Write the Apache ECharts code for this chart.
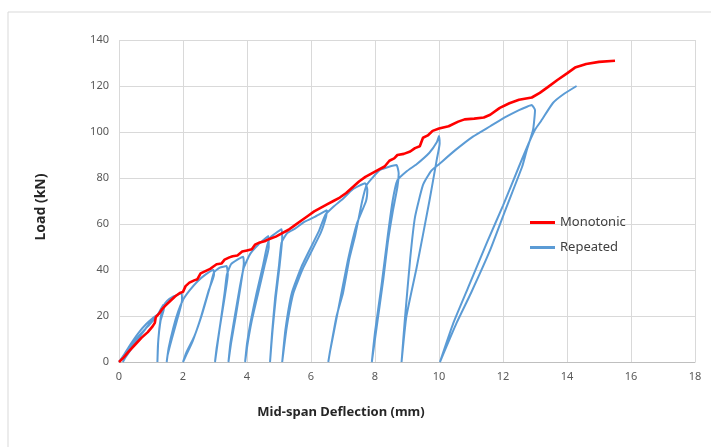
<!DOCTYPE html>
<html>
<head>
<meta charset="UTF-8" />
<title>Load vs Mid-span Deflection</title>
<script src="https://cdn.jsdelivr.net/npm/echarts@6/dist/echarts.min.js"></script>
<style>
  html, body { margin: 0; padding: 0; background: #fff; }
  #main { width: 711px; height: 447px; }
</style>
</head>
<body>
<div id="main"></div>
<script>
// axis ticks
const xTicks = [0, 2, 4, 6, 8, 10, 12, 14, 16, 18]
const yTicks = [0, 20, 40, 60, 80, 100, 120, 140]

// monotonic test: [deflection mm, load kN]
const monotonic = [
  [0,0],[0.15,2],[0.3,4.5],[0.5,7.5],[0.7,10.5],[0.9,13],[1.05,15.5],[1.12,17],[1.15,19.5],
  [1.25,21],[1.35,23],[1.45,24.5],[1.6,26.5],[1.75,28.5],[1.9,30],[2.0,30.5],[2.08,33],
  [2.2,34.5],[2.35,35.5],[2.45,36],[2.55,38.5],[2.7,39.5],[2.85,40.5],[2.95,41.5],[3.05,42.5],
  [3.2,42.8],[3.3,44.5],[3.45,45.5],[3.55,46],[3.7,46.3],[3.85,48],[4.0,48.5],[4.15,49],
  [4.25,51],[4.4,52],[4.55,52.5],[4.7,53.5],[4.9,54.5],[5.1,56],[5.3,57.5],[5.5,59.5],
  [5.7,61.5],[5.9,63.5],[6.1,65.5],[6.3,67],[6.5,68.5],[6.7,70],[6.9,71.5],[7.1,73.5],
  [7.3,76],[7.5,78.5],[7.7,80.5],[7.9,82],[8.1,83.5],[8.3,85],[8.45,87.5],[8.6,88.5],
  [8.7,90],[8.9,90.5],[9.1,91.5],[9.25,93],[9.4,93.8],[9.5,97.5],[9.65,98.5],[9.8,100.5],
  [10.0,101.5],[10.3,102.5],[10.6,104.5],[10.8,105.5],[11.1,105.8],[11.4,106.3],[11.6,107.5],
  [11.9,110.5],[12.2,112.5],[12.5,114],[12.9,115],[13.15,117],[13.4,119.5],[13.7,122.6],
  [14.0,125.5],[14.25,128],[14.6,129.6],[15.0,130.5],[15.5,131]
]

// repeated loading: one continuous path of load/unload cycles
const repeated = [
  [0,0],[0.15,3],[0.35,7.5],[0.6,12.5],[0.85,16.5],[1.05,19],[1.2,20.5],
  [1.0,17.5],[0.7,12],[0.4,6],[0.2,2],[0.12,0],
  [0.3,5],[0.6,11],[0.9,15.5],[1.1,18.5],[1.25,21.5],[1.38,24.8],
  [1.4,23],[1.3,18],[1.22,8],[1.2,0],
  [1.23,10],[1.3,19],[1.38,24],[1.5,26.5],[1.7,28.5],[1.96,29.9],
  [1.97,27],[1.85,20],[1.65,10],[1.52,3],[1.49,0],
  [1.55,6],[1.7,15],[1.85,22],[2.0,27],[2.2,31],[2.45,35],[2.7,38],[2.95,40],
  [2.97,38],[2.8,31],[2.55,19],[2.3,9],[2.1,3],[2.0,0],
  [2.1,4],[2.35,11],[2.6,21],[2.85,33],[2.97,39],[3.15,41],[3.36,41.7],
  [3.4,38],[3.3,28],[3.15,15],[3.05,5],[3.0,0],
  [3.05,6],[3.17,17],[3.3,30],[3.37,38],[3.5,42.5],[3.7,44.5],[3.88,45.8],
  [3.9,43],[3.8,33],[3.65,20],[3.5,8],[3.42,0],
  [3.48,8],[3.62,20],[3.78,33],[3.9,41],[4.1,47],[4.35,51],[4.67,54.8],
  [4.68,50],[4.55,42],[4.35,30],[4.15,18],[4.02,8],[3.94,0],
  [4.0,8],[4.12,18],[4.3,30],[4.5,42],[4.62,50],[4.72,54],[4.85,55.5],[5.08,57.7],
  [5.1,54],[5.02,42],[4.9,28],[4.8,14],[4.72,0],
  [4.78,12],[4.88,28],[5.0,42],[5.08,52],[5.25,56],[5.5,58],[5.8,61],[6.1,63],[6.3,64.5],[6.5,66],
  [6.47,63],[6.3,56],[5.76,41],[5.45,30],[5.24,15],[5.1,0],
  [5.2,14],[5.4,30],[5.72,42],[6.25,57],[6.45,64],[6.7,67.5],[7.0,71],[7.3,75],[7.69,77.7],
  [7.76,75],[7.72,70],[7.43,60],[7.15,44],[6.84,22],[6.6,5],[6.54,0],
  [6.6,5],[6.8,20],[7.0,30],[7.2,45],[7.38,55],[7.6,70],[7.74,77],[8.16,83.5],[8.67,85.6],
  [8.74,82],[8.7,76],[8.55,65],[8.4,52],[8.26,36],[8.05,15],[7.9,0],
  [8.0,13],[8.2,33],[8.4,55],[8.55,70],[8.7,79],[9.0,83],[9.3,86],[9.7,91],[9.93,95.5],[10.0,98.3],
  [10.02,95],[9.93,88],[9.7,70],[9.3,41],[8.98,19.7],[8.83,0],
  [8.93,18],[9.1,45],[9.25,63],[9.5,77],[9.75,83],[10.0,86],[10.5,92],[11.06,98],[11.6,102.5],
  [12.1,106.7],[12.5,109.5],[12.75,111],[12.9,111.7],
  [13.0,109.5],[12.94,101],[12.74,92],[12.6,85],[12.1,67],[11.6,48.7],[11.0,30],[10.55,17],[10.03,0],
  [10.45,17],[10.9,32],[11.5,52],[12.0,68],[12.5,85],[12.8,95],[13.0,101],[13.2,105],
  [13.56,112.6],[13.9,116.5],[14.3,120]
]

const chart = echarts.init(document.getElementById('main'))

const axisText = { color: '#595959', fontSize: 11, fontFamily: 'Noto Sans' }

chart.setOption({
  animation: false,
  grid: { left: 119, right: 16, top: 40, bottom: 85 },
  xAxis: {
    type: 'value',
    min: xTicks[0],
    max: xTicks[xTicks.length - 1],
    interval: 2,
    axisLine: { show: true, lineStyle: { color: '#bfbfbf', width: 1 } },
    axisTick: { show: false },
    axisLabel: { ...axisText, margin: 9 },
    splitLine: { show: true, lineStyle: { color: '#d9d9d9', width: 1 } }
  },
  yAxis: {
    type: 'value',
    min: yTicks[0],
    max: yTicks[yTicks.length - 1],
    interval: 20,
    axisLine: { show: false },
    axisTick: { show: false },
    axisLabel: { ...axisText, margin: 10 },
    splitLine: { show: true, lineStyle: { color: '#d9d9d9', width: 1 } }
  },
  legend: {
    orient: 'vertical',
    left: 530,
    top: 216,
    padding: 0,
    icon: 'rect',
    itemWidth: 25,
    itemHeight: 3,
    itemGap: 12,
    textStyle: { color: '#404040', fontSize: 13, fontFamily: 'Noto Sans' },
    data: ['Monotonic', 'Repeated']
  },
  series: [
    {
      name: 'Repeated',
      type: 'line',
      data: repeated,
      symbol: 'none',
      smooth: 0.15,
      z: 2,
      lineStyle: { color: '#5b9bd5', width: 2 },
      itemStyle: { color: '#5b9bd5' }
    },
    {
      name: 'Monotonic',
      type: 'line',
      data: monotonic,
      symbol: 'none',
      z: 3,
      lineStyle: { color: '#ff0000', width: 2.6 },
      itemStyle: { color: '#ff0000' }
    }
  ],
  graphic: [
    {
      type: 'rect',
      shape: { x: 8, y: 12, width: 720, height: 460 },
      style: { fill: 'none', stroke: '#d9d9d9', lineWidth: 1 },
      silent: true
    },
    {
      type: 'text',
      x: 41,
      y: 207,
      rotation: Math.PI / 2,
      style: {
        text: 'Load (kN)',
        fill: '#262626',
        font: 'bold 14px "Noto Sans"',
        align: 'center',
        verticalAlign: 'middle'
      }
    },
    {
      type: 'text',
      x: 341,
      y: 412,
      style: {
        text: 'Mid-span Deflection (mm)',
        fill: '#262626',
        font: 'bold 13px "Noto Sans"',
        align: 'center',
        verticalAlign: 'middle'
      }
    }
  ]
})
</script>
</body>
</html>
